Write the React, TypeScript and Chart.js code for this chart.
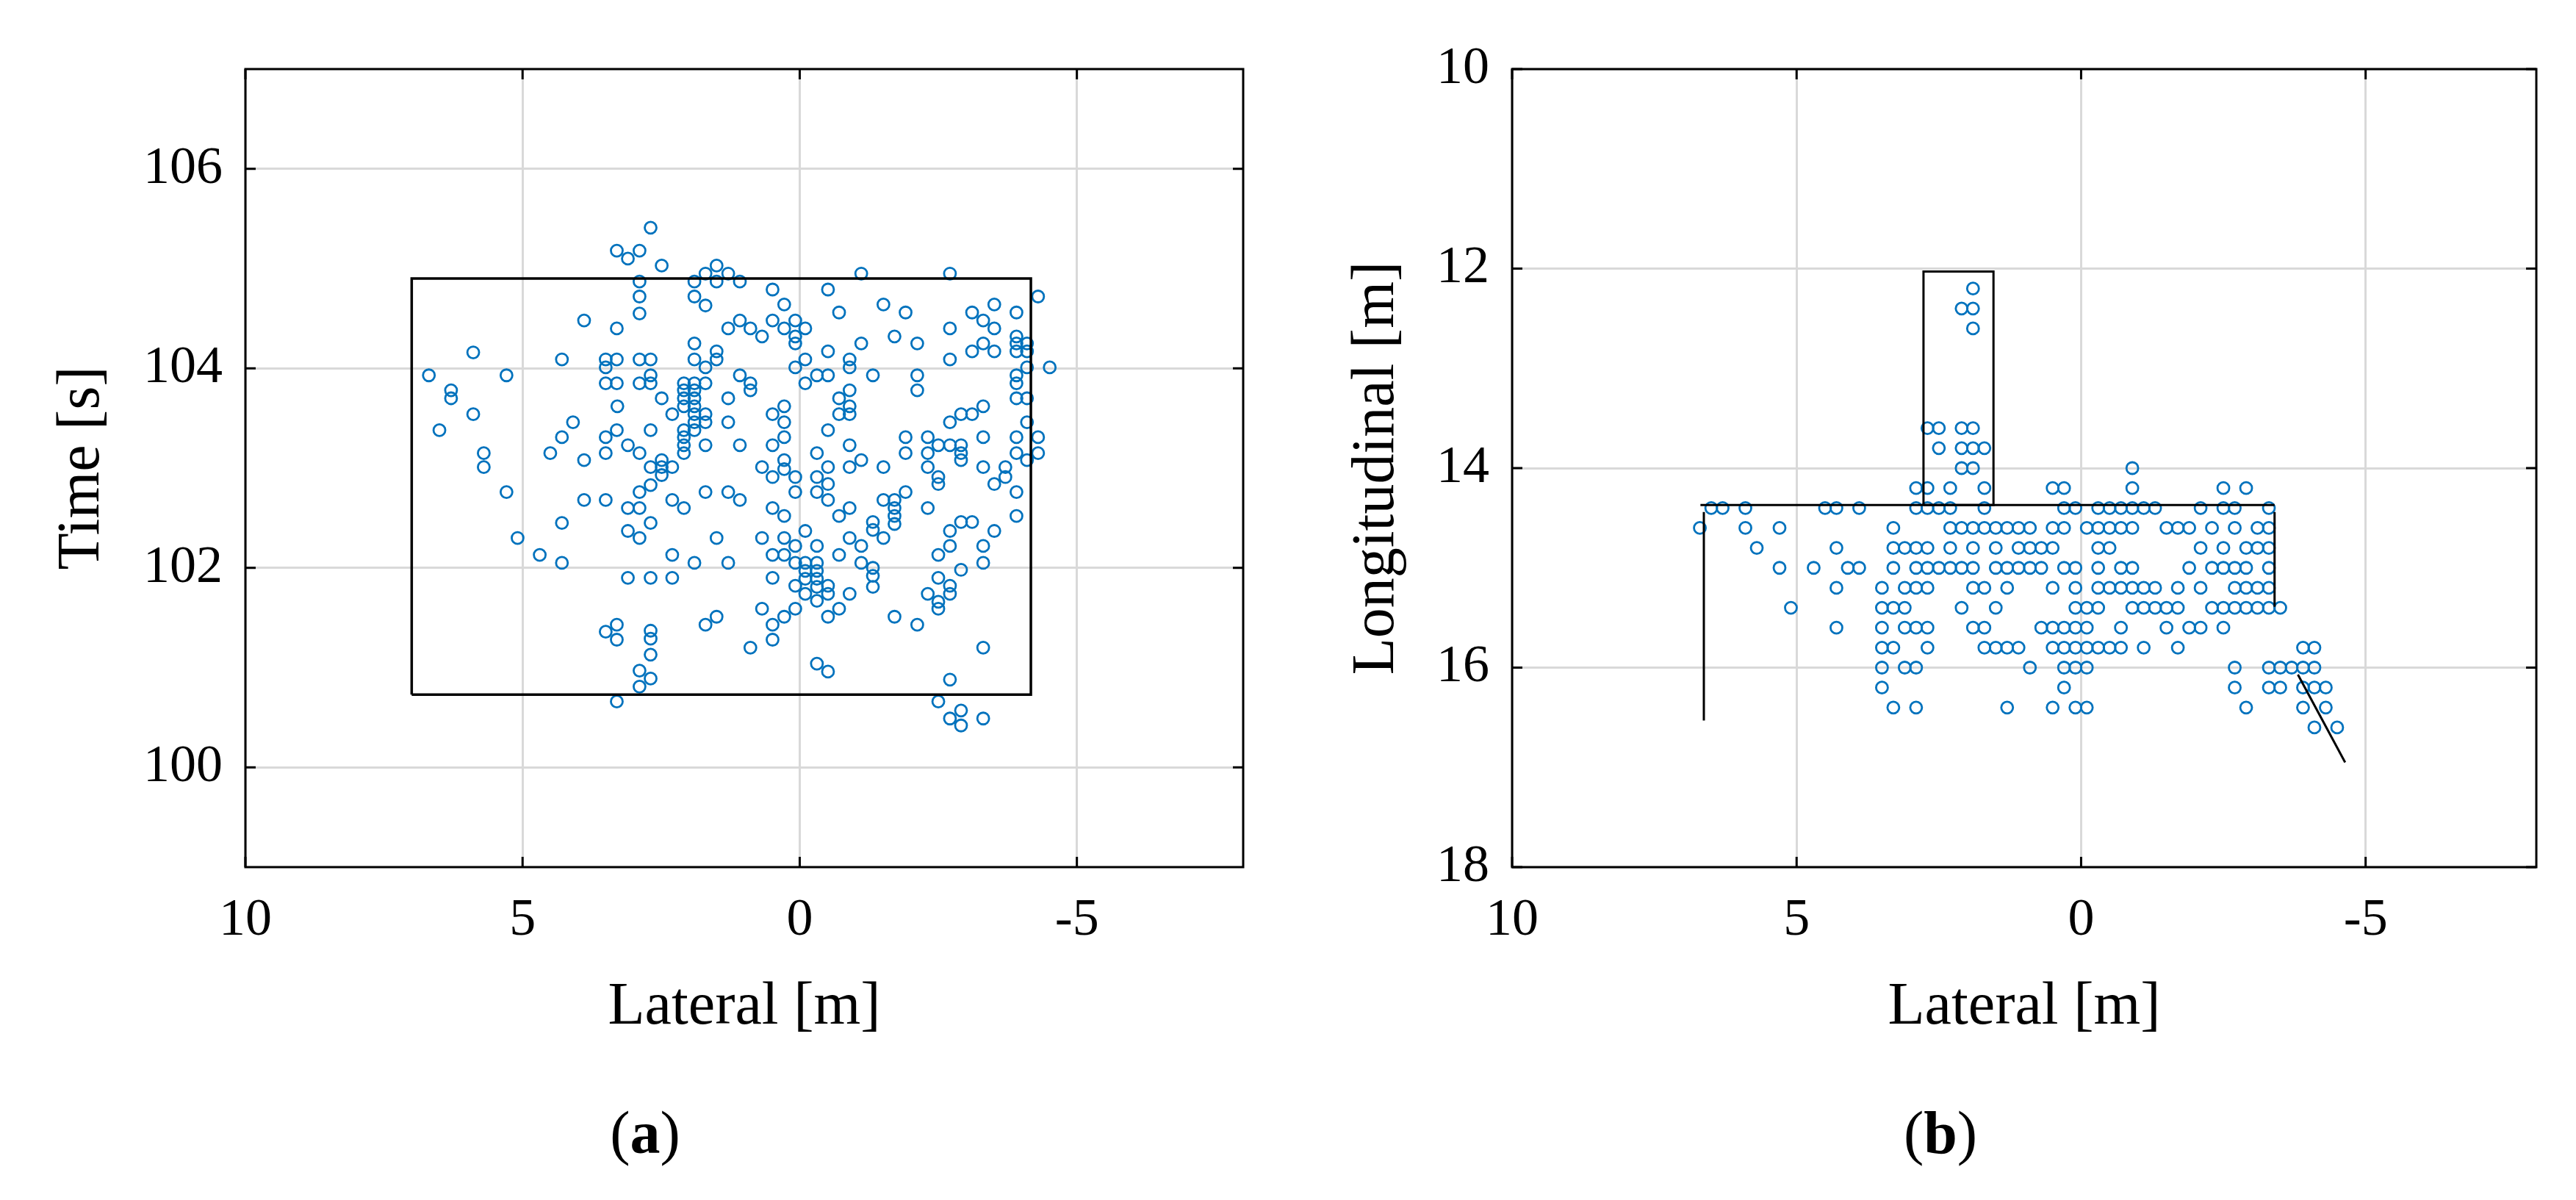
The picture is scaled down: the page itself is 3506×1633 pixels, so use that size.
import React, { useEffect, useRef } from "react";
import { Chart, registerables } from "chart.js";

Chart.register(...registerables);

const FONT = "'Liberation Serif', 'Times New Roman', serif";
const MARKER_BLUE = "#0072BD";
const GRID_GRAY = "#d9d9d9";

// ---- tick values ----
const lateralTicks = [-5, 0, 5, 10];
const timeTicks = [100, 102, 104, 106];
const longitudinalTicks = [10, 12, 14, 16, 18];

// ---- panel (a): [lateral m, time s] ----
const panelAPoints: [number, number][] = [
  [2.69, 105.41], [3.3, 105.18], [2.89, 105.18], [3.1, 105.1], [2.49, 105.03], [1.5, 105.03],
  [1.7, 104.95], [1.29, 104.95], [2.89, 104.87], [1.9, 104.87], [1.5, 104.87], [1.08, 104.87],
  [2.89, 104.72], [1.9, 104.72], [1.7, 104.63], [2.89, 104.55], [3.89, 104.48], [3.3, 104.4],
  [1.08, 104.48], [1.29, 104.4], [0.89, 104.4], [1.9, 104.25], [1.5, 104.17], [1.5, 104.09],
  [5.89, 104.16], [4.29, 104.09], [3.5, 104.09], [3.3, 104.09], [2.89, 104.09], [2.69, 104.09],
  [1.9, 104.09], [3.5, 104.01], [1.7, 104.01], [6.69, 103.93], [5.29, 103.93], [1.08, 103.93],
  [2.69, 103.93], [0.89, 103.85], [0.89, 103.78], [3.5, 103.85], [3.3, 103.85], [2.89, 103.85],
  [2.69, 103.85], [1.7, 103.85], [6.29, 103.78], [6.29, 103.7], [2.49, 103.7], [1.29, 103.7],
  [2.09, 103.85], [1.9, 103.85], [2.09, 103.78], [1.9, 103.78], [2.09, 103.7], [1.9, 103.7],
  [2.09, 103.62], [1.9, 103.62], [1.9, 103.54], [1.9, 103.46], [1.9, 103.38], [2.09, 103.38],
  [2.09, 103.31], [2.09, 103.23], [2.09, 103.15], [3.29, 103.62], [2.3, 103.54], [1.7, 103.54],
  [1.7, 103.46], [5.89, 103.54], [1.29, 103.46], [4.09, 103.46], [6.5, 103.38], [3.3, 103.38],
  [2.69, 103.38], [4.29, 103.31], [3.5, 103.31], [3.1, 103.23], [1.7, 103.23], [1.08, 103.23],
  [5.7, 103.15], [4.5, 103.15], [3.5, 103.15], [2.89, 103.15], [3.89, 103.08], [2.49, 103.08],
  [5.7, 103.01], [2.69, 103.01], [2.49, 103.01], [2.3, 103.01],
  [5.29, 102.76], [3.89, 102.68], [3.5, 102.68], [2.89, 102.76], [2.69, 102.83], [2.49, 102.93],
  [3.1, 102.6], [2.89, 102.6], [2.3, 102.68], [2.09, 102.6], [1.7, 102.76], [1.29, 102.76],
  [1.08, 102.68], [4.29, 102.45], [2.69, 102.45], [3.1, 102.37], [2.89, 102.3], [5.09, 102.3],
  [1.5, 102.3], [4.69, 102.13], [4.29, 102.05], [2.3, 102.13], [1.9, 102.05], [1.29, 102.05],
  [3.1, 101.9], [2.69, 101.9], [2.3, 101.9], [1.5, 101.51], [1.7, 101.43], [3.3, 101.43],
  [3.5, 101.36], [3.3, 101.28], [2.69, 101.37], [2.69, 101.29], [2.69, 101.13], [0.89, 101.2],
  [2.89, 100.97], [2.69, 100.89], [2.89, 100.81], [3.3, 100.66],
  [-1.11, 104.95], [-2.71, 104.95], [0.49, 104.79], [-0.51, 104.79], [-4.3, 104.72], [0.28, 104.64],
  [-1.51, 104.64], [-0.71, 104.56], [-1.91, 104.56], [-3.11, 104.56], [-3.51, 104.64], [-3.91, 104.56],
  [0.49, 104.48], [0.08, 104.48], [0.68, 104.32], [0.28, 104.4], [-0.1, 104.4], [0.08, 104.32],
  [0.08, 104.25], [-3.31, 104.48], [-3.51, 104.4], [-2.71, 104.4], [-1.71, 104.32], [-1.11, 104.25],
  [-2.12, 104.25], [-3.91, 104.32], [-3.91, 104.25], [-3.91, 104.17], [-4.1, 104.25], [-4.1, 104.17],
  [-3.11, 104.17], [-3.31, 104.25], [-3.51, 104.17], [-0.51, 104.17], [-0.1, 104.09], [0.08, 104.01],
  [-0.9, 104.09], [-0.9, 104.01], [-2.71, 104.09], [-4.1, 104.01], [-4.51, 104.01], [-0.1, 103.85],
  [-0.31, 103.93], [-0.51, 103.93], [-1.32, 103.93], [-2.12, 103.93], [-2.12, 103.78], [-3.91, 103.93],
  [-3.91, 103.85], [-3.91, 103.7], [-4.1, 103.7], [-0.9, 103.78], [-0.71, 103.7], [-0.9, 103.62],
  [-0.9, 103.54], [-0.71, 103.54], [0.28, 103.62], [0.49, 103.54], [0.28, 103.46], [-3.31, 103.62],
  [-3.11, 103.54], [-2.91, 103.54], [-2.71, 103.46], [-4.1, 103.46], [-0.51, 103.38], [0.28, 103.31],
  [0.49, 103.23], [-0.9, 103.23], [-0.31, 103.15], [-1.11, 103.08], [-1.91, 103.31], [-1.91, 103.15],
  [-2.31, 103.31], [-2.31, 103.15], [-2.5, 103.23], [-2.71, 103.23], [-2.91, 103.23], [-2.91, 103.15],
  [-2.91, 103.08], [-3.31, 103.31], [-3.91, 103.31], [-3.91, 103.15], [-4.3, 103.31], [-4.3, 103.15],
  [-4.1, 103.08], [0.28, 103.08], [0.68, 103.01], [-0.51, 103.01], [-0.9, 103.01], [-1.51, 103.01],
  [-2.31, 103.01], [-3.31, 103.01], [-3.71, 103.01],
  [0.28, 102.99], [0.49, 102.91], [0.08, 102.91], [-0.31, 102.91], [-0.51, 102.84], [-2.5, 102.91],
  [-2.5, 102.84], [-3.71, 102.91], [-3.51, 102.84], [-3.91, 102.76], [0.08, 102.76], [-0.31, 102.76],
  [-0.51, 102.68], [-1.51, 102.68], [-1.71, 102.68], [-1.71, 102.6], [-1.71, 102.52], [-1.71, 102.44],
  [-1.91, 102.76], [-2.31, 102.6], [0.49, 102.6], [0.28, 102.52], [-0.71, 102.52], [-0.9, 102.6],
  [-1.32, 102.46], [-1.32, 102.38], [-1.51, 102.3], [-3.91, 102.52], [-2.91, 102.46], [-3.11, 102.46],
  [-2.71, 102.37], [-3.51, 102.37], [-0.1, 102.37], [0.68, 102.3], [0.28, 102.3], [0.08, 102.22],
  [-0.31, 102.22], [-0.9, 102.3], [-1.11, 102.22], [-2.71, 102.22], [-3.31, 102.22], [0.49, 102.13],
  [0.28, 102.13], [-0.71, 102.13], [-2.5, 102.13], [0.08, 102.05], [-1.11, 102.05], [-3.31, 102.05],
  [-0.1, 102.05], [-0.31, 102.05], [-0.1, 101.97], [-0.31, 101.97], [-0.1, 101.89], [-0.31, 101.89],
  [-1.32, 102.0], [-1.32, 101.92], [-1.32, 101.81], [-2.91, 101.98], [0.49, 101.9], [-2.5, 101.9],
  [0.08, 101.82], [-0.51, 101.82], [-2.71, 101.82], [-0.1, 101.74], [-0.31, 101.81], [-0.51, 101.74],
  [-0.9, 101.74], [-2.31, 101.74], [-2.71, 101.74], [-2.5, 101.66], [-2.5, 101.59], [-0.31, 101.67],
  [0.68, 101.59], [0.08, 101.59], [-0.71, 101.59], [0.28, 101.51], [-0.51, 101.51], [-1.71, 101.51],
  [0.49, 101.43], [-2.12, 101.43], [0.49, 101.28], [-3.31, 101.2], [-0.31, 101.04], [-0.51, 100.96],
  [-2.71, 100.88], [-2.5, 100.66], [-2.71, 100.49], [-2.91, 100.57], [-2.91, 100.42], [-3.31, 100.49],
];

// panel (a) boundary box
const zoneALateral = [7.0, -4.17, -4.17, 7.0, 7.0];
const zoneATime = [100.73, 100.73, 104.9, 104.9, 100.73];

// ---- panel (b): rows of longitudinal position with lateral positions ----
const panelBLongitudinal = [12.2, 12.4, 12.6, 13.6, 13.8, 14.0, 14.2, 14.4, 14.6, 14.8, 15.0, 15.2, 15.4, 15.6, 15.8, 16.0, 16.2, 16.4, 16.6];
const panelBLateral: number[][] = [
  [1.9],
  [2.1, 1.9],
  [1.9],
  [2.7, 2.5, 2.1, 1.9],
  [2.5, 2.1, 1.9, 1.7],
  [2.1, 1.9, -0.9],
  [2.9, 2.7, 2.3, 1.7, 0.5, 0.3, -0.9, -2.5, -2.9],
  [6.5, 6.3, 5.9, 4.5, 4.3, 3.9, 2.9, 2.7, 2.5, 2.3, 1.7, 0.3, 0.1, -0.3, -0.5, -0.7, -0.9, -1.1, -1.3, -2.1, -2.5, -2.7, -3.3],
  [6.7, 5.9, 5.3, 3.3, 2.3, 2.1, 1.9, 1.7, 1.5, 1.3, 1.1, 0.9, 0.5, 0.3, -0.1, -0.3, -0.5, -0.7, -0.9, -1.5, -1.7, -1.9, -2.3, -2.7, -3.1, -3.3],
  [5.7, 4.3, 3.3, 3.1, 2.9, 2.7, 2.3, 1.9, 1.5, 1.1, 0.9, 0.7, 0.5, -0.3, -0.5, -2.1, -2.5, -2.9, -3.1, -3.3],
  [5.3, 4.7, 4.1, 3.9, 3.3, 2.9, 2.7, 2.5, 2.3, 2.1, 1.9, 1.5, 1.3, 1.1, 0.9, 0.7, 0.3, 0.1, -0.3, -0.7, -0.9, -1.9, -2.3, -2.5, -2.7, -2.9, -3.3],
  [4.3, 3.5, 3.1, 2.9, 2.7, 1.9, 1.7, 1.3, 0.5, 0.1, -0.3, -0.5, -0.7, -0.9, -1.1, -1.3, -1.7, -2.1, -2.7, -2.9, -3.1, -3.3],
  [5.1, 3.5, 3.3, 3.1, 2.1, 1.5, 0.1, -0.1, -0.3, -0.9, -1.1, -1.3, -1.5, -1.7, -2.3, -2.5, -2.7, -2.9, -3.1, -3.3, -3.5],
  [4.3, 3.5, 3.1, 2.9, 2.7, 1.9, 1.7, 0.7, 0.5, 0.3, 0.1, -0.1, -0.7, -1.5, -1.9, -2.1, -2.5],
  [3.5, 3.3, 2.7, 1.7, 1.5, 1.3, 1.1, 0.5, 0.3, 0.1, -0.1, -0.3, -0.5, -0.7, -1.1, -1.7, -3.9, -4.1],
  [3.5, 3.1, 2.9, 0.9, 0.3, 0.1, -0.1, -2.7, -3.3, -3.5, -3.7, -3.9, -4.1],
  [3.5, 0.3, -2.7, -3.3, -3.5, -3.9, -4.1, -4.3],
  [3.3, 2.9, 1.3, 0.5, 0.1, -0.1, -2.9, -3.9, -4.3],
  [-4.1, -4.5],
];

// panel (b) outline segments
const zoneBTallLateral = [2.77, 1.54, 1.54, 2.77, 2.77];
const zoneBTallLongitudinal = [14.37, 14.37, 12.03, 12.03, 14.37];
const zoneBTopLateral = [6.69, -3.4];
const zoneBTopLongitudinal = [14.37, 14.37];
const zoneBLeftLateral = [6.63, 6.63];
const zoneBLeftLongitudinal = [14.44, 16.53];
const zoneBRightLateral = [-3.4, -3.4];
const zoneBRightLongitudinal = [14.44, 15.39];
const zoneBDiagLateral = [-3.81, -4.64];
const zoneBDiagLongitudinal = [16.07, 16.95];

const framePlugin = {
  id: "matlabFrame",
  afterDraw(chart: any) {
    const { ctx, chartArea, scales } = chart;
    const { left, right, top, bottom } = chartArea;
    const L = 14;
    ctx.save();
    ctx.strokeStyle = "#000";
    ctx.lineWidth = 3;
    ctx.beginPath();
    scales.x.ticks.forEach((t: any) => {
      const px = scales.x.getPixelForValue(t.value);
      ctx.moveTo(px, bottom);
      ctx.lineTo(px, bottom - L);
      ctx.moveTo(px, top);
      ctx.lineTo(px, top + L);
    });
    scales.y.ticks.forEach((t: any) => {
      const py = scales.y.getPixelForValue(t.value);
      ctx.moveTo(left, py);
      ctx.lineTo(left + L, py);
      ctx.moveTo(right, py);
      ctx.lineTo(right - L, py);
    });
    ctx.stroke();
    ctx.strokeRect(left, top, right - left, bottom - top);
    ctx.restore();
  },
};

function lineDataset(xs: number[], ys: number[], width: number) {
  return {
    data: xs.map((x, i) => ({ x, y: ys[i] })),
    showLine: true,
    borderColor: "#000",
    borderWidth: width,
    pointRadius: 0,
    fill: false,
    tension: 0,
  };
}

function markerDataset(points: { x: number; y: number }[]) {
  return {
    data: points,
    showLine: false,
    pointStyle: "circle",
    pointRadius: 8,
    pointBorderWidth: 2.8,
    pointBorderColor: MARKER_BLUE,
    pointBackgroundColor: "rgba(0,0,0,0)",
  };
}

function buildConfig(p: any) {
  return {
    type: "scatter",
    data: { datasets: p.datasets },
    options: {
      animation: false,
      responsive: false,
      devicePixelRatio: 1,
      layout: { padding: { left: 0, top: 94, right: p.padRight, bottom: 0 } },
      plugins: { legend: { display: false }, tooltip: { enabled: false } },
      scales: {
        x: {
          type: "linear",
          min: -8,
          max: 10,
          reverse: true,
          afterBuildTicks: (s: any) => {
            s.ticks = lateralTicks.map((v) => ({ value: v }));
          },
          afterFit: (s: any) => {
            s.height = 453;
          },
          grid: { color: GRID_GRAY, lineWidth: 3, drawTicks: false },
          border: { display: false },
          ticks: { font: { family: FONT, size: 72 }, color: "#000", padding: 30, maxRotation: 0, autoSkip: false },
          title: {
            display: true,
            text: "Lateral [m]",
            font: { family: FONT, size: 82 },
            color: "#000",
            padding: { top: 0, bottom: 212 },
          },
        },
        y: {
          type: "linear",
          min: p.yMin,
          max: p.yMax,
          reverse: p.yReverse,
          afterBuildTicks: (s: any) => {
            s.ticks = p.yTicks.map((v: number) => ({ value: v }));
          },
          afterFit: (s: any) => {
            s.width = p.yAxisWidth;
          },
          grid: { color: GRID_GRAY, lineWidth: 3, drawTicks: false },
          border: { display: false },
          ticks: { font: { family: FONT, size: 72 }, color: "#000", padding: 31, autoSkip: false },
          title: {
            display: true,
            text: p.yTitle,
            font: { family: FONT, size: 82 },
            color: "#000",
            padding: { top: p.yTitlePad, bottom: 0 },
          },
        },
      },
    },
    plugins: [framePlugin],
  };
}

export default function App() {
  const refA = useRef<HTMLCanvasElement | null>(null);
  const refB = useRef<HTMLCanvasElement | null>(null);

  useEffect(() => {
    const pointsA = panelAPoints.map(([x, y]) => ({ x, y }));
    const pointsB: { x: number; y: number }[] = [];
    panelBLongitudinal.forEach((y, i) => {
      panelBLateral[i].forEach((x) => pointsB.push({ x, y }));
    });

    const cfgA: any = buildConfig({
      datasets: [lineDataset(zoneALateral, zoneATime, 3.5), markerDataset(pointsA)],
      yMin: 99,
      yMax: 107,
      yReverse: false,
      yTicks: timeTicks,
      yTitle: "Time [s]",
      yAxisWidth: 334,
      yTitlePad: 63,
      padRight: 58,
    });
    const cfgB: any = buildConfig({
      datasets: [
        lineDataset(zoneBTallLateral, zoneBTallLongitudinal, 3),
        lineDataset(zoneBTopLateral, zoneBTopLongitudinal, 3),
        lineDataset(zoneBLeftLateral, zoneBLeftLongitudinal, 3),
        lineDataset(zoneBRightLateral, zoneBRightLongitudinal, 3),
        lineDataset(zoneBDiagLateral, zoneBDiagLongitudinal, 3),
        markerDataset(pointsB),
      ],
      yMin: 10,
      yMax: 18,
      yReverse: true,
      yTicks: longitudinalTicks,
      yTitle: "Longitudinal [m]",
      yAxisWidth: 308,
      yTitlePad: 75,
      padRight: 54,
    });
    const chartA = new Chart(refA.current as HTMLCanvasElement, cfgA);
    const chartB = new Chart(refB.current as HTMLCanvasElement, cfgB);
    return () => {
      chartA.destroy();
      chartB.destroy();
    };
  }, []);

  const captionStyle: React.CSSProperties = {
    position: "absolute",
    top: 1502,
    width: 300,
    textAlign: "center",
    fontFamily: FONT,
    fontSize: 82,
    lineHeight: "80px",
    color: "#000",
  };

  return (
    <div style={{ position: "absolute", left: 0, top: 0, width: 3506, height: 1633, background: "#fff", overflow: "hidden" }}>
      <canvas ref={refA} width={1750} height={1633} style={{ position: "absolute", left: 0, top: 0, width: 1750, height: 1633 }} />
      <canvas ref={refB} width={1756} height={1633} style={{ position: "absolute", left: 1750, top: 0, width: 1756, height: 1633 }} />
      <div style={{ ...captionStyle, left: 878 - 150 }}>
        (<b>a</b>)
      </div>
      <div style={{ ...captionStyle, left: 2641 - 150 }}>
        (<b>b</b>)
      </div>
    </div>
  );
}
